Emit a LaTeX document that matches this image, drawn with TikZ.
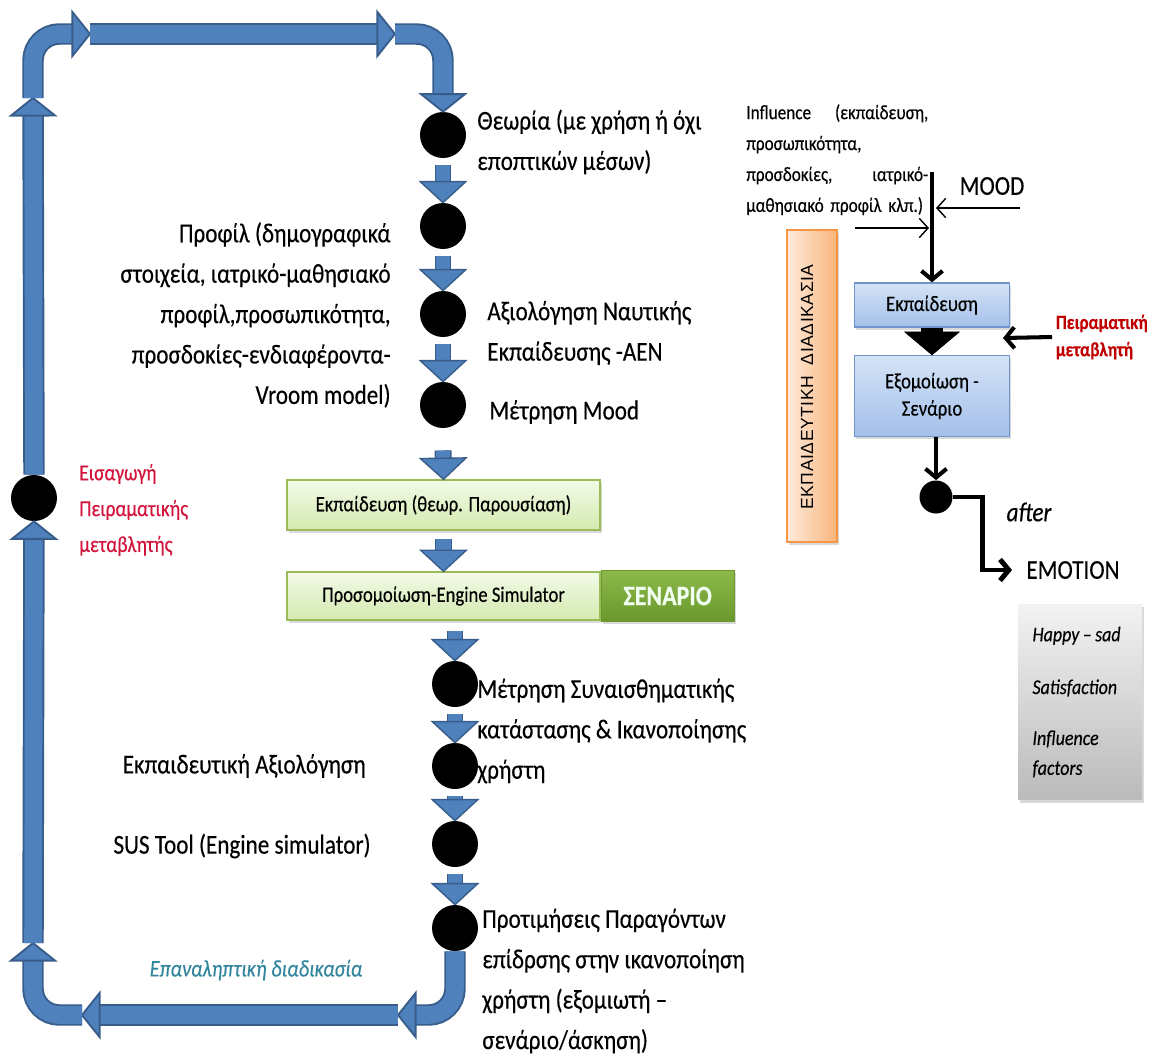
\documentclass[tikz,border=0pt]{standalone}
\usepackage{fontspec}
\setmainfont{Carlito}[FakeStretch=0.85,FakeBold=0.3]
\newfontfamily\capsfont{Liberation Sans}[LetterSpace=3]
\usetikzlibrary{calc,arrows.meta,shadows,positioning}

\definecolor{pipeblue}{HTML}{4F81BD}
\definecolor{pipeedge}{HTML}{385D8A}
\definecolor{greenedge}{HTML}{9BBB59}
\definecolor{greentop}{HTML}{F3FAE8}
\definecolor{greenbot}{HTML}{D3EAAE}
\definecolor{scentop}{HTML}{8DB94B}
\definecolor{scenbot}{HTML}{6A982C}
\definecolor{bluetop}{HTML}{D5E3F6}
\definecolor{bluebot}{HTML}{A3C0EA}
\definecolor{blueedge}{HTML}{6F95CC}
\definecolor{orangeleft}{HTML}{FDEBDD}
\definecolor{orangeright}{HTML}{F9B47A}
\definecolor{orangeedge}{HTML}{F79646}
\definecolor{loopred}{HTML}{D2143C}
\definecolor{varred}{HTML}{C00000}
\definecolor{repteal}{HTML}{31859C}

\newcommand{\mainsize}{\fontsize{15.5}{23}\selectfont}
\newcommand{\boxsize}{\fontsize{12.5}{15.5}\selectfont}
\newcommand{\smallsize}{\fontsize{11.5}{17.6}\selectfont}

\tikzset{
  pipe/.style={draw=pipeedge,line width=1.1pt,double=pipeblue,double distance=10pt},
  pipe head/.style={draw=pipeedge,line width=1.1pt,fill=pipeblue},
  stub/.style={draw=pipeedge,line width=0.8pt,double=pipeblue,double distance=8pt},
  stub head/.style={draw=pipeedge,line width=0.8pt,fill=pipeblue},
  dot/.style={circle,fill=black,inner sep=0pt,minimum size=#1},
  dot/.default=0.92cm,
  txt/.style={inner sep=0pt,font=\mainsize},
  greenbox/.style={draw=greenedge,line width=0.8pt,top color=greentop,bottom color=greenbot,
    drop shadow={opacity=0.3,shadow xshift=1pt,shadow yshift=-1.5pt},font=\boxsize},
  bluebox/.style={draw=blueedge,line width=0.8pt,top color=bluetop,bottom color=bluebot,
    drop shadow={opacity=0.3,shadow xshift=1pt,shadow yshift=-1.5pt},font=\boxsize,align=center},
  heavy/.style={line width=2.3pt,-{Straight Barb[length=5pt,width=12pt]}},
  light/.style={line width=0.8pt,-{Straight Barb[length=5pt,width=11pt]}}
}

% head of a block arrow: style, point behind, tip, half width, length
\newcommand{\blockhead}[5]{%
  \coordinate (hb) at ($(#3)!#5!(#2)$);
  \filldraw[#1] ($(hb)!#4!90:(#3)$) -- (#3) -- ($(hb)!#4!-90:(#3)$) -- cycle;}
\newcommand{\bigarrow}[2]{%
  \draw[pipe,shorten >=10pt] (#1) -- (#2);
  \blockhead{pipe head}{#1}{#2}{12.5pt}{10pt}}
\newcommand{\bentarrow}[3]{%
  \draw[pipe,rounded corners=15pt,shorten >=10pt] (#2) #1 (#3);
  \blockhead{pipe head}{#2 #1 #3}{#3}{12.5pt}{10pt}}
\newcommand{\smallarrow}[2]{%
  \draw[stub,shorten <=3.5pt,shorten >=12pt] (#1) -- (#2);
  \blockhead{stub head}{#1}{#2}{13pt}{12pt}}

\begin{document}
\begin{tikzpicture}[x=0.02cm,y=-0.02cm]
\useasboundingbox (0,0) rectangle (1152,1059);

%% kentriki stili
\node[dot] (c1) at (443,135) {};
\node[dot] (c2) at (443,226) {};
\node[dot] (c3) at (443,314) {};
\node[dot] (c4) at (443,405) {};
\node[greenbox,minimum width=6.26cm,minimum height=1cm] (box1) at (443.5,505) {Εκπαίδευση (θεωρ. Παρουσίαση)};
\node[greenbox,minimum width=6.26cm,minimum height=0.96cm] (box2) at (443.5,596) {Προσομοίωση-Engine Simulator};
\node[draw=scenbot,line width=0.6pt,top color=scentop,bottom color=scenbot,minimum width=2.66cm,minimum height=1.02cm,
  font=\fontsize{16}{18}\selectfont\bfseries,text=white!94!green,right=0pt of box2,
  drop shadow={opacity=0.3,shadow xshift=1pt,shadow yshift=-1.5pt}] (scen) {ΣΕΝΑΡΙΟ};
\node[dot] (c5) at (455,684) {};
\node[dot] (c6) at (455,766) {};
\node[dot] (c7) at (455,844) {};
\node[dot] (c8) at (455,928) {};
\node[dot] (cl) at (34,498) {};

%% keimena
\node[txt,anchor=west,align=left] (theory) at (477,142) {Θεωρία (με χρήση ή όχι\\εποπτικών μέσων)};
\node[txt,anchor=east,align=right] (profile) at (391,315) {Προφίλ (δημογραφικά\\στοιχεία, ιατρικό-μαθησιακό\\προφίλ,προσωπικότητα,\\προσδοκίες-ενδιαφέροντα-\\Vroom model)};
\node[txt,anchor=west,align=left] (aen) at (487,333) {Αξιολόγηση Ναυτικής\\Εκπαίδευσης -ΑΕΝ};
\node[txt,anchor=west] (mood1) at (489,412) {Μέτρηση Mood};
\node[txt,anchor=west,align=left] (emomeas) at (477,731) {Μέτρηση Συναισθηματικής\\κατάστασης \& Ικανοποίησης\\χρήστη};
\node[txt,anchor=east] (edueval) at (366,766) {Εκπαιδευτική Αξιολόγηση};
\node[txt,anchor=east] (sus) at (371,846) {SUS Tool (Engine simulator)};
\node[txt,anchor=west,align=left] (pref) at (482,981) {Προτιμήσεις Παραγόντων\\επίδρσης στην ικανοποίηση\\χρήστη (εξομιωτή –\\σενάριο/άσκηση)};
\node[inner sep=0pt,font=\fontsize{13.5}{16}\selectfont\itshape,text=repteal] (rep) at (256,970) {Επαναληπτική διαδικασία};
\node[inner sep=0pt,anchor=west,align=left,font=\fontsize{13}{20.4}\selectfont,text=loopred] (intro) at (79,510) {Εισαγωγή\\Πειραματικής\\μεταβλητής};

%% mikra velh
\smallarrow{c1.south}{c2.north}
\smallarrow{c2.south}{c3.north}
\smallarrow{c3.south}{c4.north}
\coordinate (s4) at ($(c4.south)+(0,16)$);
\smallarrow{s4}{box1.north}
\coordinate (s5) at ($(box1.south)+(0,2)$);
\smallarrow{s5}{box2.north}
\coordinate (s6) at ($(c5.north |- box2.south)+(0,4)$);
\smallarrow{s6}{c5.north}
\smallarrow{c5.south}{c6.north}
\smallarrow{c6.south}{c7.north}
\smallarrow{c7.south}{c8.north}

%% vroxos epanalipsis
\coordinate (b0) at (398,1015);
\coordinate (b1) at (82,1015);
\coordinate (b2) at (33,943);
\coordinate (b3) at (33,98);
\coordinate (b4) at (90,34);
\coordinate (b5) at (395,34);
\bentarrow{|-}{c8.south}{b0}
\bigarrow{b0}{b1}
\bentarrow{-|}{b1}{b2}
\bigarrow{b2}{cl.south}
\bigarrow{cl.north}{b3}
\bentarrow{|-}{b3}{b4}
\bigarrow{b4}{b5}
\bentarrow{-|}{b5}{c1.north}

%% ekpaideutiki diadikasia
\node[draw=orangeedge,line width=0.8pt,left color=orangeleft,right color=orangeright,minimum width=1cm,minimum height=6.24cm,
  drop shadow={opacity=0.3,shadow xshift=1pt,shadow yshift=-1.5pt}] (proc) at (812,386) {};
\node[rotate=90,font=\capsfont\fontsize{10}{12}\selectfont] (proclbl) at (807,387) {ΕΚΠΑΙΔΕΥΤΙΚΗ\ \ ΔΙΑΔΙΚΑΣΙΑ};
\node[anchor=north west,inner sep=0pt,text width=3.64cm,align=left,font=\smallsize] (infl) at (746,104)
  {Influence\hfill(εκπαίδευση,\\προσωπικότητα,\\προσδοκίες,\hfill ιατρικό-\\μαθησιακό προφίλ κλπ.)};
\node[txt] (mood) at (992,186) {MOOD};
\node[bluebox,minimum width=3.1cm,minimum height=0.88cm] (bx1) at (932,305) {Εκπαίδευση};
\node[bluebox,minimum width=3.1cm,minimum height=1.62cm] (bx2) at (932,396) {Εξομοίωση -\\Σενάριο};
\node[anchor=west,inner sep=2pt,align=left,font=\fontsize{11.5}{15.5}\selectfont\bfseries,text=varred] (var) at (1052,337) {Πειραματική\\μεταβλητή};
\node[dot=0.66cm] (dot) at (936,497) {};
\node[txt,anchor=west,inner xsep=8pt] (emo) at (1012,570) {EMOTION};
\node[txt,font=\mainsize\itshape] (after) at (1029,512) {after};
\node[top color=black!5,bottom color=black!27,minimum width=2.48cm,minimum height=3.92cm,text width=1.9cm,align=left,
  font=\fontsize{12}{17}\selectfont\itshape,drop shadow={opacity=0.3,shadow xshift=1pt,shadow yshift=-1.5pt}] (emobox) at (1080,702)
  {Happy\,–\,sad\\[13pt]Satisfaction\\[12pt]Influence\\factors};

\coordinate (vtop) at (932,172);
\coordinate (moodtail) at (1020,208);
\coordinate (moodtip) at (936,208);
\coordinate (infltail) at (855,228);
\coordinate (infltip) at (929,228);
\coordinate (pin) at (1003,338);
\draw[heavy] (vtop) -- (bx1.north);
\draw[light] (moodtail) -- (moodtip);
\draw[light] (infltail) -- (infltip);
\draw[line width=13pt,shorten >=12pt] (bx1.south) -- (bx2.north);
\blockhead{fill=black}{bx1.south}{bx2.north}{15.5pt}{13pt}
\draw[heavy] (var.west) -- (pin);
\draw[heavy] (dot.north |- bx2.south) -- (dot.north);
\draw[line width=2.8pt,-{Straight Barb[length=5pt,width=12pt]}] (dot.east) -- ++(30,0) |- (emo.west);
\end{tikzpicture}
\end{document}
